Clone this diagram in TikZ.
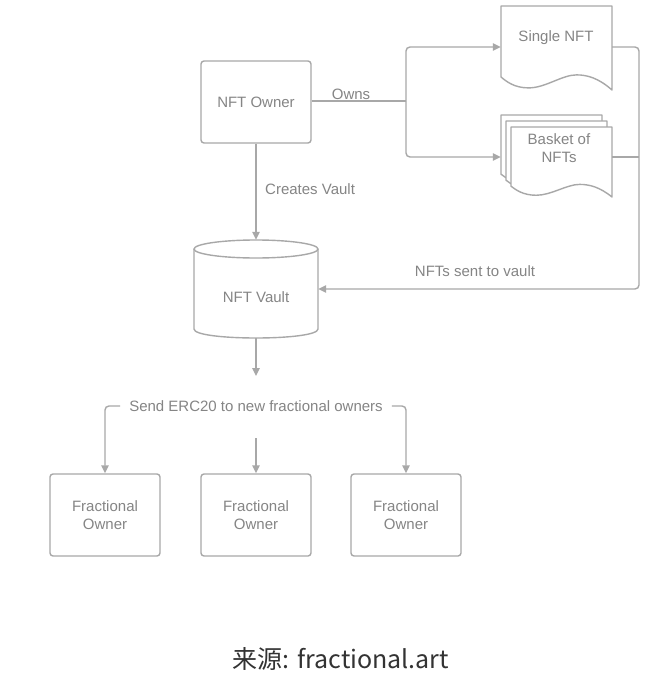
\documentclass[tikz,border=0pt]{standalone}
\usepackage{fontspec}
\setmainfont{Liberation Sans}
\newfontfamily\cjk{Noto Sans CJK SC}
\usetikzlibrary{arrows.meta}
\definecolor{ln}{HTML}{A8A8A8}
\definecolor{tx}{HTML}{858585}
\definecolor{capc}{HTML}{333333}
\newcommand{\docshape}[4]{%
  \draw[docline,shift={(#1,#2)}] (0,0) -- ({#3},0) -- ({#3},{#4})
   .. controls ({0.88*#3},{0.86*#4}) and ({0.78*#3},{0.82*#4}) .. ({0.68*#3},{0.82*#4})
   .. controls ({0.55*#3},{0.82*#4}) and ({0.4*#3},{0.975*#4}) .. ({0.25*#3},{0.975*#4})
   .. controls ({0.12*#3},{0.975*#4}) and ({0.05*#3},{0.9*#4}) .. (0,{0.845*#4}) -- cycle;}
\begin{document}
\begin{tikzpicture}[x=1pt,y=-1pt,
  txt/.style={text=tx,font=\fontsize{15}{18}\selectfont,align=center,inner sep=2pt},
  box/.style={txt,draw=ln,line width=1.4pt,rounded corners=3pt,minimum width=110pt,minimum height=82pt},
  docline/.style={draw=ln,line width=1.4pt,fill=white,line join=round},
  conn/.style={draw=ln,line width=1.4pt,rounded corners=4pt},
  arr/.style={conn,-{Triangle[length=8pt,width=7.5pt]}},
  ghost/.style={draw=none,inner sep=0pt}]
\useasboundingbox[fill=white] (0,0) rectangle (669,680);

% nodes
\node[box] (owner) at (256,102) {NFT Owner};
\node[ghost,minimum width=111pt,minimum height=84pt] (single) at (556.5,47) {};
\node[ghost,minimum width=111pt,minimum height=20pt] (basket) at (556.5,157) {};
\node[ghost,minimum width=124pt,minimum height=98pt] (vault) at (256,289) {};

% document shapes
\docshape{501}{6}{111}{84}
\docshape{501}{115}{101}{70}
\docshape{506}{121}{101}{70}
\docshape{511}{127}{101}{70}
\node[txt] (singletext) at (556,38) {Single NFT};
\node[txt] (baskettext) at (559,148) {Basket of\\NFTs};

% cylinder
\draw[docline] (194,249) -- (194,329) .. controls (194,341) and (318,341) .. (318,329) -- (318,249);
\draw[docline] (256,249) ellipse [x radius=62, y radius=9];
\node[txt] (vaulttext) at (256,297) {NFT Vault};

\node[box] (f1) at (105,515) {Fractional\\Owner};
\node[box] (f2) at (256,515) {Fractional\\Owner};
\node[box] (f3) at (406,515) {Fractional\\Owner};

% owns
\coordinate (split) at (406,101);
\draw[conn] (owner.east |- split) -- (split);
\draw[arr] (split) |- (single.west);
\draw[arr] (split) |- (basket.west);
\node[txt] (owns) at (351,94) {Owns};

% to vault
\coordinate (rj) at (639,289);
\draw[arr] (single.east) -| (rj) -- (vault.east);
\draw[conn] (basket.east) -- (basket.east -| rj);
\node[txt] (sent) at (475,271) {NFTs sent to vault};

\draw[arr] (owner.south) -- (vault.north);
\node[txt,anchor=west] (creates) at (263,189) {Creates Vault};

% to owners
\coordinate (vout) at (256,376);
\draw[arr] (vault.south) -- (vout);
\node[txt,inner xsep=9pt] (send) at (256,406) {Send ERC20 to new fractional owners};
\draw[arr] (send.west) -| (f1.north);
\draw[arr] (send.east) -| (f3.north);
\coordinate (mtop) at (256,438);
\draw[arr] (mtop) -- (f2.north);

% caption
\node[text=capc,font=\cjk\fontsize{25}{29}\selectfont] (cap) at (341,659) {来源: fractional.art};
\end{tikzpicture}
\end{document}
